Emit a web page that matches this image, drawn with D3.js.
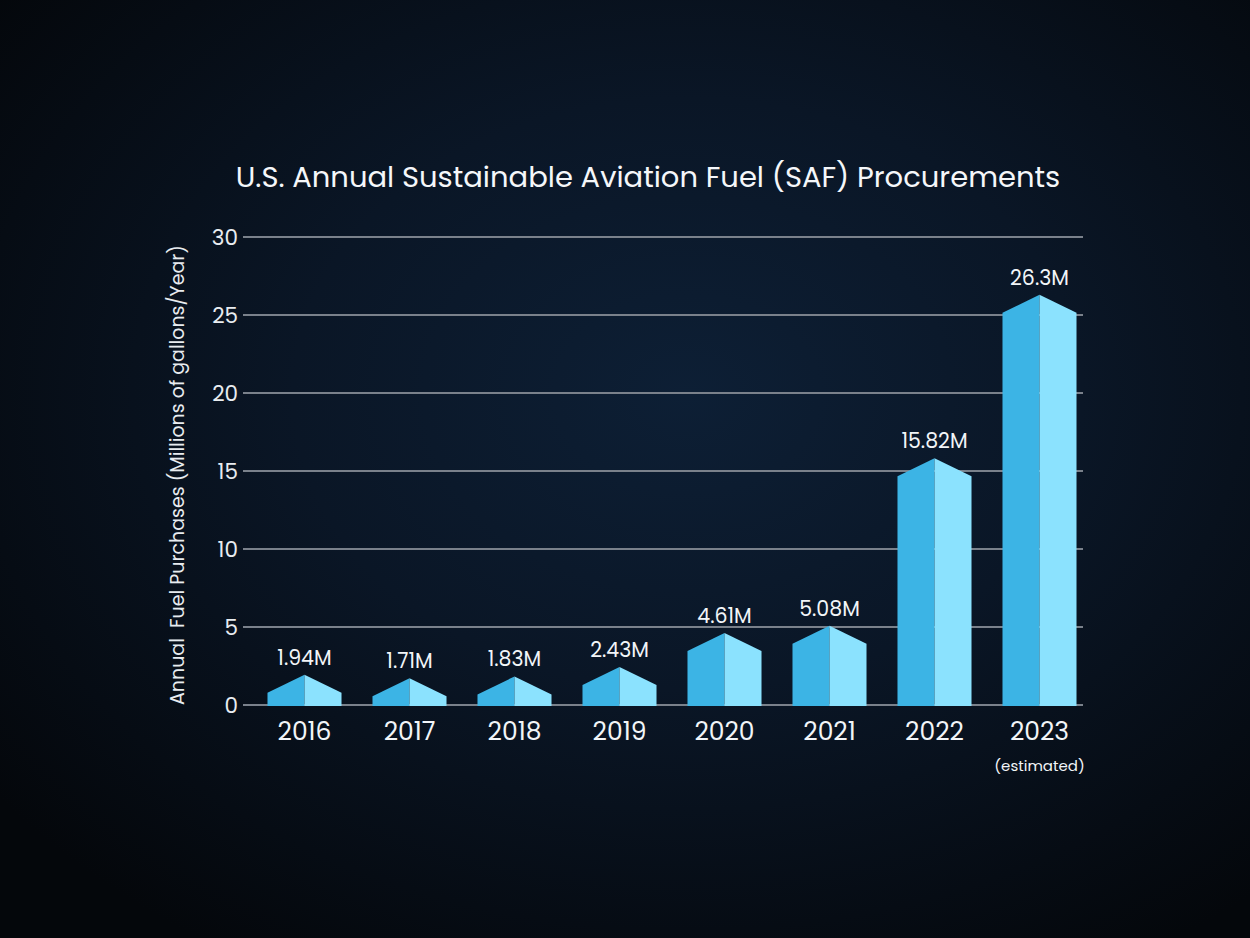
<!DOCTYPE html>
<html><head><meta charset="utf-8">
<script src="https://cdn.jsdelivr.net/npm/d3@7"></script>
<style>html,body{margin:0;padding:0;background:#05080c;}svg{display:block;}</style>
</head><body>
<svg id="c" width="1250" height="938"></svg>
<script>
const years = ["2016","2017","2018","2019","2020","2021","2022","2023"];
const values = [1.94,1.71,1.83,2.43,4.61,5.08,15.82,26.3];
const valueLabels = ["1.94M","1.71M","1.83M","2.43M","4.61M","5.08M","15.82M","26.3M"];
const yTicks = [0,5,10,15,20,25,30];
const title = "U.S. Annual Sustainable Aviation Fuel (SAF) Procurements";
const yTitle = "Annual\u00a0 Fuel Purchases (Millions of gallons/Year)";
const note = "(estimated)";

const FONT = "Poppins, Inter, 'Open Sans', sans-serif";
const svg = d3.select("#c");
const defs = svg.append("defs");
const rg = defs.append("radialGradient").attr("id","bg").attr("cx","0.55").attr("cy","0.42").attr("r","0.7");
rg.append("stop").attr("offset","0").attr("stop-color","#0d1f35");
rg.append("stop").attr("offset","0.45").attr("stop-color","#0a1626");
rg.append("stop").attr("offset","1").attr("stop-color","#04070b");
svg.append("rect").attr("width",1250).attr("height",938).attr("fill","url(#bg)");

const y = d3.scaleLinear().domain([0,30]).range([705,237]);
const x = d3.scaleBand().domain(years).range([252,1092]).padding(0);
const bw = x.bandwidth()*0.705;
const roof = 18;

svg.append("g").selectAll("line").data(yTicks).join("line")
  .attr("x1",243).attr("x2",1083)
  .attr("y1",d=>y(d)).attr("y2",d=>y(d))
  .attr("stroke","#7a818b").attr("stroke-width",2);

svg.append("g").selectAll("text").data(yTicks).join("text")
  .attr("x",238).attr("y",d=>y(d)).attr("dy","0.35em")
  .attr("text-anchor","end").attr("fill","#e8ecf0")
  .attr("font-family",FONT).attr("font-size",21.5).text(d=>d);

const bars = svg.append("g").selectAll("g").data(years).join("g");
bars.each(function(yr,i){
  const g = d3.select(this);
  const cx = x(yr)+x.bandwidth()/2;
  const top = y(values[i]);
  const base = y(0)+1;
  const l = cx-bw/2, r = cx+bw/2;
  g.append("path").attr("d",`M${l},${base}L${l},${top+roof}L${cx},${top}L${cx},${base}Z`).attr("fill","#3cb4e5");
  g.append("path").attr("d",`M${cx},${base}L${cx},${top}L${r},${top+roof}L${r},${base}Z`).attr("fill","#8be2fe");
  g.append("text").attr("x",cx).attr("y",top-10).attr("text-anchor","middle")
    .attr("fill","#f2f5f8").attr("font-family",FONT).attr("font-size",20.5).text(valueLabels[i]);
  g.append("text").attr("x",cx).attr("y",740).attr("text-anchor","middle")
    .attr("fill","#f2f5f8").attr("font-family",FONT).attr("font-size",25).text(yr);
});

svg.append("text").attr("x",x("2023")+x.bandwidth()/2).attr("y",771).attr("text-anchor","middle")
  .attr("fill","#f2f5f8").attr("font-family",FONT).attr("font-size",15).text(note);

svg.append("text").attr("x",648).attr("y",187).attr("text-anchor","middle")
  .attr("fill","#f5f7fa").attr("font-family",FONT).attr("font-size",29).text(title);

svg.append("text").attr("transform","translate(184,475) rotate(-90)").attr("text-anchor","middle")
  .attr("fill","#e8ecf0").attr("font-family",FONT).attr("font-size",19).text(yTitle);
</script>
</body></html>
